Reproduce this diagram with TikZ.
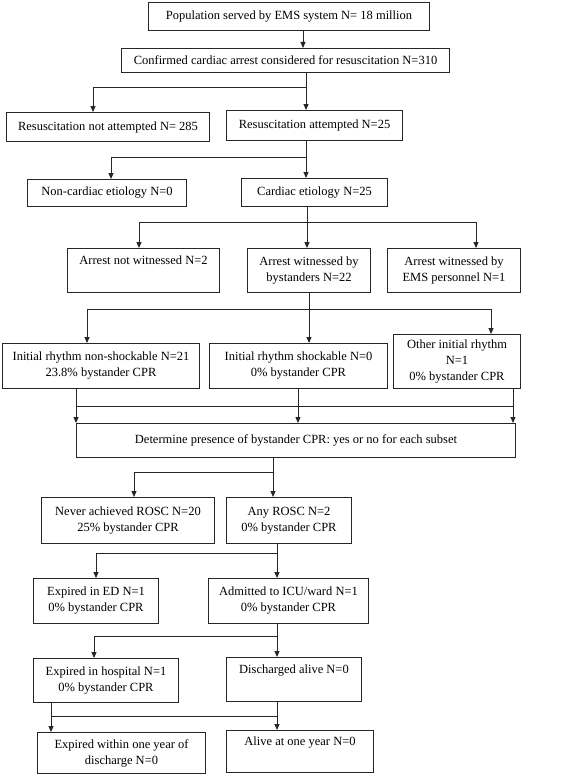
\documentclass[tikz,border=0pt]{standalone}
\usepackage{fontspec}
\setmainfont{Liberation Serif}
\usetikzlibrary{arrows.meta}
\begin{document}
\begin{tikzpicture}[x=1pt,y=-1pt,
  box/.style={draw=black!85, line width=1pt, anchor=north west, align=center,
    inner sep=2pt, font=\fontsize{12.5pt}{16pt}\selectfont},
  ln/.style={draw=black!85, line width=1pt},
  arr/.style={ln, -{Triangle[length=6pt,width=5pt]}}]
\useasboundingbox (0,0) rectangle (567,776);
\fill[white] (0,0) rectangle (567,776);
% boxes
\node[box, minimum width=281pt, minimum height=28pt] (b1) at (148,2) {Population served by EMS system N= 18 million};
\node[box, minimum width=328pt, minimum height=24pt] (b2) at (121,48) {Confirmed cardiac arrest considered for resuscitation N=310};
\node[box, minimum width=203pt, minimum height=29pt] (b3) at (6,112) {Resuscitation not attempted N= 285};
\node[box, minimum width=176pt, minimum height=30pt] (b4) at (226,110) {Resuscitation attempted N=25};
\node[box, minimum width=159pt, minimum height=27pt] (b5) at (27,179) {Non-cardiac etiology N=0};
\node[box, minimum width=146pt, minimum height=28pt] (b6) at (241,178) {Cardiac etiology N=25};
\node[box, minimum width=152pt, minimum height=44pt] (b7) at (67,248) {Arrest not witnessed N=2\\\strut};
\node[box, minimum width=123pt, minimum height=44pt] (b8) at (247,248) {Arrest witnessed by\\bystanders N=22};
\node[box, minimum width=133pt, minimum height=44pt] (b9) at (387,248) {Arrest witnessed by\\EMS personnel N=1};
\node[box, minimum width=197pt, minimum height=45pt] (b10) at (2,343) {Initial rhythm non-shockable N=21\\23.8\% bystander CPR};
\node[box, minimum width=178pt, minimum height=45pt] (b11) at (209,343) {Initial rhythm shockable N=0\\0\% bystander CPR};
\node[box, minimum width=127pt, minimum height=54pt] (b12) at (393,334) {Other initial rhythm\\N=1\\0\% bystander CPR};
\node[box, minimum width=439pt, minimum height=34pt] (b13) at (76,423) {Determine presence of bystander CPR: yes or no for each subset};
\node[box, minimum width=173pt, minimum height=46pt] (b14) at (41,497) {Never achieved ROSC N=20\\25\% bystander CPR};
\node[box, minimum width=125pt, minimum height=46pt] (b15) at (226,497) {Any ROSC N=2\\0\% bystander CPR};
\node[box, minimum width=125pt, minimum height=45pt] (b16) at (33,578) {Expired in ED N=1\\0\% bystander CPR};
\node[box, minimum width=160pt, minimum height=45pt] (b17) at (208,578) {Admitted to ICU/ward N=1\\0\% bystander CPR};
\node[box, minimum width=145pt, minimum height=44pt] (b18) at (33,658) {Expired in hospital N=1\\0\% bystander CPR};
\node[box, minimum width=135pt, minimum height=44pt] (b19) at (226,657) {Discharged alive N=0\\\strut};
\node[box, minimum width=168pt, minimum height=41pt] (b20) at (37,732) {Expired within one year of\\discharge N=0};
\node[box, minimum width=147pt, minimum height=42pt] (b21) at (226,730) {Alive at one year N=0\\\strut};
% junction coordinates
\coordinate (t1) at (303,0);
\coordinate (s2) at (306,87);   \coordinate (a3) at (93,87);
\coordinate (s4) at (306,157);  \coordinate (a5) at (111,157);
\coordinate (s6) at (307,222);  \coordinate (a7) at (139,222); \coordinate (a9) at (476,222);
\coordinate (s8) at (309,309);  \coordinate (a10) at (87,309); \coordinate (a12) at (491,309);
\coordinate (m1) at (76,406);   \coordinate (m2) at (298,406); \coordinate (m3) at (513,406);
\coordinate (s13) at (273,472); \coordinate (a14) at (134,472);
\coordinate (s15) at (277,553); \coordinate (a16) at (96,553);
\coordinate (s17) at (277,636); \coordinate (a18) at (94,636);
\coordinate (m4) at (51,716);   \coordinate (m5) at (277,716);
% connectors
\draw[arr] (b1.south -| t1) -- (b2.north -| t1);
\draw[ln] (b2.south -| s2) -- (s2);
\draw[arr] (s2) -- (a3) -- (b3.north -| a3);
\draw[arr] (s2) -- (b4.north -| s2);
\draw[ln] (b4.south -| s4) -- (s4);
\draw[arr] (s4) -- (a5) -- (b5.north -| a5);
\draw[arr] (s4) -- (b6.north -| s4);
\draw[ln] (b6.south -| s6) -- (s6);
\draw[arr] (s6) -- (a7) -- (b7.north -| a7);
\draw[arr] (s6) -- (b8.north -| s6);
\draw[arr] (s6) -- (a9) -- (b9.north -| a9);
\draw[ln] (b8.south -| s8) -- (s8);
\draw[arr] (s8) -- (a10) -- (b10.north -| a10);
\draw[arr] (s8) -- (b11.north -| s8);
\draw[arr] (s8) -- (a12) -- (b12.north -| a12);
\draw[ln] (b10.south -| m1) -- (m1);
\draw[ln] (b11.south -| m2) -- (m2);
\draw[ln] (b12.south -| m3) -- (m3);
\draw[ln] (m1) -- (m3);
\draw[arr] (m1) -- (b13.north -| m1);
\draw[arr] (m2) -- (b13.north -| m2);
\draw[arr] (m3) -- (b13.north -| m3);
\draw[ln] (b13.south -| s13) -- (s13);
\draw[arr] (s13) -- (a14) -- (b14.north -| a14);
\draw[arr] (s13) -- (b15.north -| s13);
\draw[ln] (b15.south -| s15) -- (s15);
\draw[arr] (s15) -- (a16) -- (b16.north -| a16);
\draw[arr] (s15) -- (b17.north -| s15);
\draw[ln] (b17.south -| s17) -- (s17);
\draw[arr] (s17) -- (a18) -- (b18.north -| a18);
\draw[arr] (s17) -- (b19.north -| s17);
\draw[ln] (b18.south -| m4) -- (m4);
\draw[ln] (b19.south -| m5) -- (m5);
\draw[ln] (m4) -- (m5);
\draw[arr] (m4) -- (b20.north -| m4);
\draw[arr] (m5) -- (b21.north -| m5);
\end{tikzpicture}
\end{document}
